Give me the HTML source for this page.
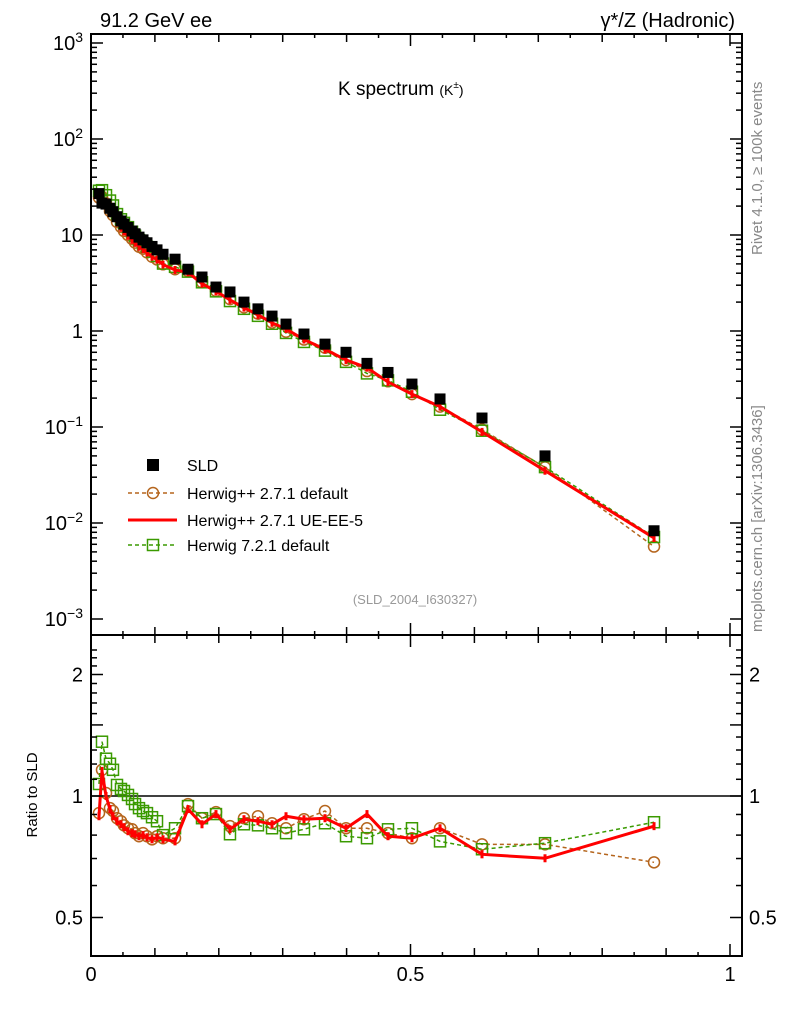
<!DOCTYPE html>
<html><head><meta charset="utf-8">
<style>
html,body{margin:0;padding:0;background:#fff;}
svg{display:block;font-family:"Liberation Sans",Arial,sans-serif;}
</style></head>
<body>
<svg id="chart" width="786" height="1024" viewBox="0 0 786 1024" xmlns="http://www.w3.org/2000/svg">
  <text x="100" y="27" font-size="20">91.2 GeV ee</text>
  <text x="735" y="27" font-size="20" text-anchor="end">γ*/Z (Hadronic)</text>
  <text x="338" y="95" font-size="19">K spectrum <tspan font-size="14">(K</tspan><tspan font-size="10" dy="-7">±</tspan><tspan font-size="14" dy="7">)</tspan></text>
  <text transform="translate(762,255) rotate(-90)" font-size="15" fill="#888">Rivet 4.1.0, ≥ 100k events</text>
  <text transform="translate(762,632) rotate(-90)" font-size="15" fill="#888">mcplots.cern.ch [arXiv:1306.3436]</text>
  <text x="415" y="604" font-size="13" fill="#999" text-anchor="middle">(SLD_2004_I630327)</text>
  <text transform="translate(37,795) rotate(-90)" font-size="15" text-anchor="middle">Ratio to SLD</text>
  <g id="marks"></g>
  <g id="axes"></g>
  <g>
    <rect x="147" y="459" width="12" height="12" fill="#000"/>
    <text x="187" y="471" font-size="16">SLD</text>
    <line x1="128" y1="493" x2="177" y2="493" stroke="#b5651d" stroke-width="1.5" stroke-dasharray="4,3"/>
    <circle cx="153" cy="493" r="5.5" fill="none" stroke="#b5651d" stroke-width="1.5"/>
    <text x="187" y="499" font-size="16">Herwig++ 2.7.1 default</text>
    <line x1="128" y1="520" x2="177" y2="520" stroke="#f00" stroke-width="3"/>
    <text x="187" y="526" font-size="16">Herwig++ 2.7.1 UE-EE-5</text>
    <line x1="128" y1="545" x2="177" y2="545" stroke="#3a9a00" stroke-width="1.5" stroke-dasharray="4,3"/>
    <rect x="147.5" y="539.5" width="11" height="11" fill="none" stroke="#3a9a00" stroke-width="1.5"/>
    <text x="187" y="551" font-size="16">Herwig 7.2.1 default</text>
  </g>
</svg>
<script>
const xValues=[0.0125,0.0172,0.0235,0.0297,0.0344,0.0407,0.0469,0.0516,0.0579,0.0642,0.0689,0.0751,0.0814,0.0876,0.0955,0.1033,0.1127,0.1315,0.1518,0.1737,0.1956,0.2175,0.2394,0.2613,0.2833,0.3052,0.3333,0.3662,0.3991,0.4319,0.4648,0.5023,0.5462,0.6119,0.7105,0.8811];
const sldValues=[27,21.5,21,19,17.5,15.5,14,13,12,11,10.3,9.5,8.9,8.3,7.6,7.0,6.3,5.6,4.4,3.65,2.87,2.55,2.0,1.70,1.43,1.18,0.93,0.73,0.60,0.46,0.37,0.28,0.196,0.124,0.050,0.0083];
const ratioHerwigppDefault=[0.907,1.161,1.017,0.933,0.918,0.881,0.866,0.846,0.832,0.827,0.809,0.795,0.809,0.795,0.781,0.795,0.786,0.786,0.955,0.881,0.912,0.842,0.881,0.891,0.856,0.832,0.876,0.918,0.832,0.832,0.809,0.786,0.832,0.759,0.759,0.685];
const ratioUEEE5=[0.891,1.154,1.0,0.928,0.891,0.866,0.851,0.837,0.818,0.809,0.804,0.795,0.80,0.790,0.781,0.790,0.781,0.772,0.928,0.851,0.902,0.827,0.876,0.866,0.851,0.891,0.876,0.881,0.832,0.902,0.795,0.786,0.832,0.717,0.701,0.842];
const ratioHerwig7=[1.071,1.363,1.237,1.202,1.161,1.065,1.041,1.029,1.006,0.983,0.955,0.933,0.918,0.907,0.886,0.866,0.80,0.832,0.944,0.881,0.902,0.804,0.851,0.846,0.832,0.809,0.827,0.856,0.795,0.786,0.827,0.832,0.772,0.738,0.764,0.861];
const mainTicks=["10","10","10","1","10","10","10"];
const ratioTickValues=[0.5,1,2];
const xTickLabels=["0","0.5","1"];

const NS="http://www.w3.org/2000/svg";
const L=91,R=742,T=34,MB=635,RB=956;
function sx(x){return 91+x*639;}
function sy(v){return 43+(3-Math.log10(v))*96;}
function ry(r){return 796-Math.log2(r)*121.5;}
function mk(tag,attrs,parent){const e=document.createElementNS(NS,tag);for(const k in attrs)e.setAttribute(k,attrs[k]);parent.appendChild(e);return e;}
const marks=document.getElementById('marks');
const axes=document.getElementById('axes');

const defs=mk('defs',{},marks);
const c1=mk('clipPath',{id:'cm'},defs);mk('rect',{x:L,y:T,width:R-L,height:MB-T},c1);
const c2=mk('clipPath',{id:'cr'},defs);mk('rect',{x:L,y:MB,width:R-L,height:RB-MB},c2);
const gm=mk('g',{'clip-path':'url(#cm)'},marks);


const gr=mk('g',{'clip-path':'url(#cr)'},marks);



const refl=mk('line',{x1:L,x2:R,y1:ry(1),y2:ry(1),stroke:'#000','stroke-width':1.5},gr);



function series(g,ratios,useRatio,color,dash,width,markerType,name){
  const pts=xValues.map((x,i)=>{const r=ratios[i];return [sx(x),useRatio?ry(r):sy(sldValues[i]*r)];});
  const pl=mk('polyline',{points:pts.map(p=>p.join(',')).join(' '),fill:'none',stroke:color,'stroke-width':width},g);
  if(dash)pl.setAttribute('stroke-dasharray',dash);
  
  
  pts.forEach((p,i)=>{
    let m;
    if(markerType==='circle'){m=mk('circle',{cx:p[0],cy:p[1],r:5.5,fill:'none',stroke:color,'stroke-width':1.5},g);}
    else if(markerType==='square'){m=mk('rect',{x:p[0]-5.5,y:p[1]-5.5,width:11,height:11,fill:'none',stroke:color,'stroke-width':1.5},g);}
    else {m=mk('rect',{x:p[0]-1.5,y:p[1]-4,width:3,height:8,fill:color},g);}
    
    
  });
}
series(gm,ratioHerwigppDefault,false,'#b5651d','4,3',1.5,'circle','herwigpp-default');
series(gm,ratioHerwig7,false,'#3a9a00','4,3',1.5,'square','herwig7');
series(gm,ratioUEEE5,false,'#f00',null,3,'bar','herwigpp-ueee5');
xValues.forEach((x,i)=>{
  const r=mk('rect',{x:sx(x)-5.5,y:sy(sldValues[i])-5.5,width:11,height:11,fill:'#000'},gm);
  
  
});
series(gr,ratioHerwigppDefault,true,'#b5651d','4,3',1.5,'circle','ratio-herwigpp-default');
series(gr,ratioHerwig7,true,'#3a9a00','4,3',1.5,'square','ratio-herwig7');
series(gr,ratioUEEE5,true,'#f00',null,3,'bar','ratio-herwigpp-ueee5');

const f1=mk('rect',{x:L,y:T,width:R-L,height:MB-T,fill:'none',stroke:'#000','stroke-width':2},axes);


const f2=mk('rect',{x:L,y:MB,width:R-L,height:RB-MB,fill:'none',stroke:'#000','stroke-width':2},axes);



function tick(x1,y1,x2,y2){mk('line',{x1:x1,y1:y1,x2:x2,y2:y2,stroke:'#000','stroke-width':1.5},axes);}
for(let k=0;k<=20;k++){
  const x=sx(k*0.05);
  const len=(k%10===0)?12:(k%2===0?8:4);
  [T,MB].forEach(y=>tick(x,y,x,y+len));
  [MB,RB].forEach(y=>tick(x,y,x,y-len));
}
xTickLabels.forEach(s=>{
  const t=mk('text',{x:sx(parseFloat(s)),y:981,'font-size':20,'text-anchor':'middle'},axes);
  t.textContent=s;
  
  
});
for(let e=-3;e<=3;e++){
  const y=sy(Math.pow(10,e));
  tick(L,y,L+12,y);tick(R,y,R-12,y);
  if(e<3)for(let m=2;m<=9;m++){const ym=sy(m*Math.pow(10,e));tick(L,ym,L+6,ym);tick(R,ym,R-6,ym);}
  const t=mk('text',{x:83,y:y+7,'font-size':20,'text-anchor':'end'},axes);
  
  
  const base=mainTicks[e+3];
  if(e===0||e===1){t.textContent=e===0?'1':'10';}
  else{t.textContent=base;const sp=document.createElementNS(NS,'tspan');sp.setAttribute('font-size',14);sp.setAttribute('dy',-8);sp.textContent=(e<0?'−':'')+Math.abs(e);t.appendChild(sp);}
}
for(let r=0.5;r<=2.31;r+=0.1){
  const rr=Math.round(r*10)/10;
  const y=ry(rr);
  const major=(rr===0.5||rr===1||rr===2||rr===1.5);
  const len=major?12:6;
  tick(L,y,L+len,y);tick(R,y,R-len,y);
}
ratioTickValues.forEach(v=>{
  const y=ry(v);
  const a=mk('text',{x:83,y:y+7,'font-size':20,'text-anchor':'end'},axes);a.textContent=String(v);
  
  
  const b=mk('text',{x:749,y:y+7,'font-size':20},axes);b.textContent=String(v);
  
  
});
</script>
</body></html>
